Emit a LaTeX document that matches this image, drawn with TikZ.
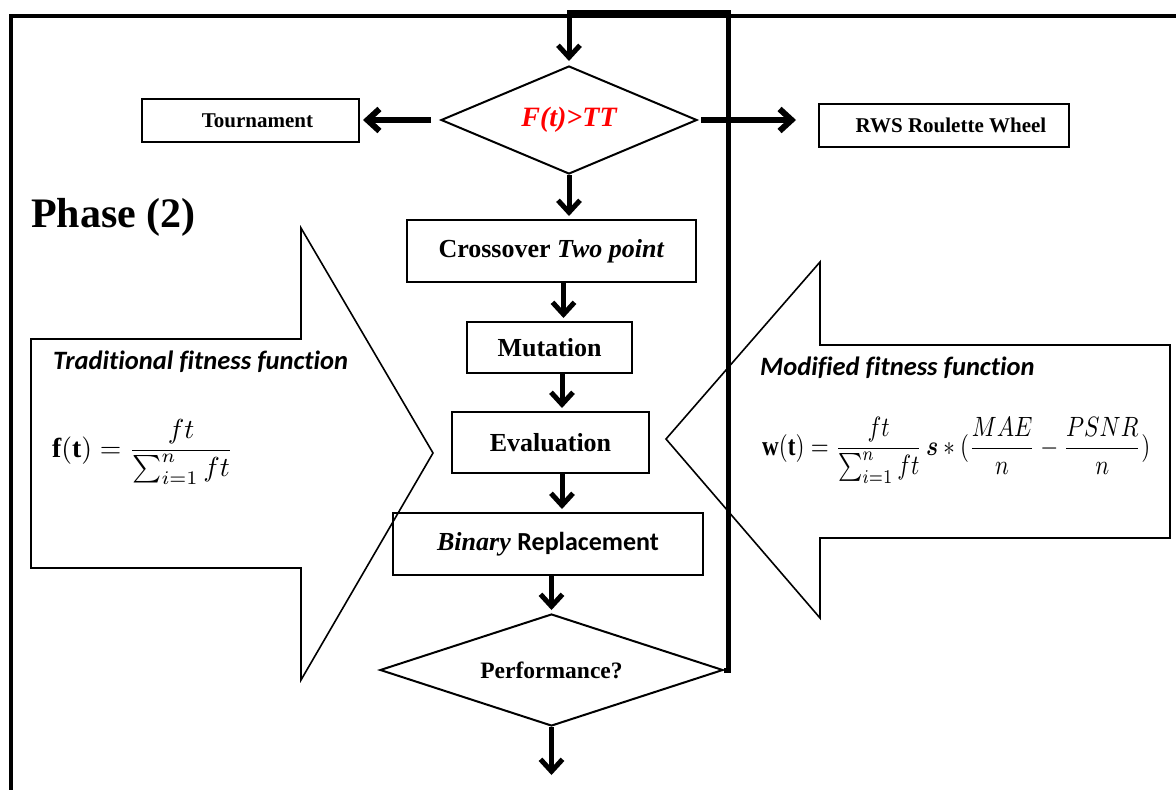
\documentclass[tikz,border=0pt]{standalone}
\usepackage{fontspec}
\usepackage{amsmath}
\setmainfont{Liberation Serif}
\newfontfamily\calfont[Ligatures=NoCommon]{Carlito}
\usetikzlibrary{arrows.meta,shapes.geometric}

\tikzset{
  box/.style={draw, line width=2pt, rectangle, inner sep=0pt,
    font=\fontsize{26}{30}\selectfont\bfseries},
  smallbox/.style={draw, line width=2pt, rectangle, inner sep=0pt,
    font=\fontsize{21}{25}\selectfont\bfseries},
  decide/.style={draw, line width=2pt, diamond, inner sep=0pt},
  flow/.style={line width=5pt, line join=miter,
    -{Straight Barb[length=12pt,width=22pt]}, shorten >=3pt},
  sideflow/.style={flow, line width=6pt},
  bigarrow/.style={draw, line width=1.6pt, line join=miter},
  caption/.style={anchor=base west, inner sep=0pt,
    font=\calfont\fontsize{26.5}{31}\selectfont\bfseries\itshape},
}

\begin{document}
\begin{tikzpicture}[x=1pt,y=-1pt]
\useasboundingbox (0,0) rectangle (1176,790);

% outer frame
\draw[line width=4pt] (11,790) -- (11,15.5) -- (1176,15.5);

% side arrows carrying the fitness functions
\draw[bigarrow] (31,339) -- (301,339) -- (301,228) -- (433,453) -- (301,680)
  -- (301,568) -- (31,568) -- cycle;
\draw[bigarrow] (1170,345) -- (820,345) -- (820,262) -- (666,439) -- (820,618)
  -- (820,538) -- (1170,538) -- cycle;

\node[anchor=base west, inner sep=0pt, font=\fontsize{42}{47}\selectfont\bfseries]
  (phase) at (31,227) {Phase (2)};

\node[caption] (tradlbl) at (53,369) {Traditional fitness function};
\node[caption] (modlbl) at (760,375) {Modified fitness function};

\node[anchor=west, inner sep=0pt] (tradf) at (52,452)
  {\resizebox*{181pt}{65pt}{$\mathbf{f}(\mathbf{t}) = \dfrac{ft}{\sum_{i=1}^{n} ft}$}};
\node[anchor=west, inner sep=0pt] (modf) at (762,450)
  {\resizebox*{388pt}{66pt}{$\mathbf{w}(\mathbf{t}) = \dfrac{ft}{\sum_{i=1}^{n} ft}\,
   \boldsymbol{s} \ast (\dfrac{MAE}{n} - \dfrac{PSNR}{n})$}};

% selection
\node[decide, aspect=2.37, minimum width=256pt, minimum height=108pt,
  font=\fontsize{28}{32}\selectfont\bfseries\itshape, text=red]
  (sel) at (569,120) {F(t)>TT};
\node[smallbox, minimum width=217pt, minimum height=43pt]
  (tour) at (250.5,120.5) {\hspace*{14pt}Tournament};
\node[smallbox, minimum width=250pt, minimum height=43pt]
  (rws) at (944,125.5) {\hspace*{14pt}RWS Roulette Wheel};

% main flow
\node[box, minimum width=289pt, minimum height=62pt]
  (cross) at (551.5,251) {Crossover \textit{Two point}};
\node[box, minimum width=165pt, minimum height=51pt]
  (mut) at (549.5,347.5) {Mutation};
\node[box, minimum width=197pt, minimum height=61pt]
  (eval) at (550.5,442.5) {Evaluation};
\node[box, minimum width=310pt, minimum height=62pt]
  (bin) at (548,544) {\textit{Binary} {\calfont Replacement}};
\node[decide, aspect=3.06, minimum width=343pt, minimum height=112pt,
  font=\fontsize{23.5}{28}\selectfont\bfseries]
  (perf) at (551.5,670) {Performance?};

\coordinate (looptop) at (728,12);
\coordinate (exit) at (551.5,778);

% connectors
\draw[sideflow, shorten <=9pt] (sel.west) -- (sel.west -| tour.east);
\draw[sideflow, shorten <=3pt, shorten >=22pt] (sel.east) -- (sel.east -| rws.west);
\draw[flow] (sel.south) -- (sel.south |- cross.north);
\draw[flow] ([xshift=12pt]cross.south) -- ([xshift=12pt]cross.south |- mut.north);
\draw[flow] ([xshift=12.5pt]mut.south) -- ([xshift=12.5pt]mut.south |- eval.north);
\draw[flow] ([xshift=11.5pt]eval.south) -- ([xshift=11.5pt]eval.south |- bin.north);
\draw[flow] (perf.north |- bin.south) -- (perf.north);
\draw[flow] (perf.south) -- (exit);
\draw[flow, shorten >=4pt] (perf.east) -| (looptop) -| (sel.north);

\end{tikzpicture}
\end{document}
